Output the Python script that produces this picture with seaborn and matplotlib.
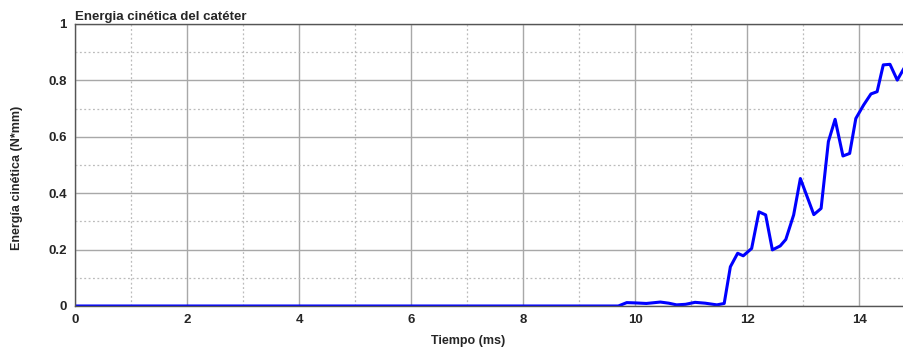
import matplotlib
matplotlib.use("Agg")
import matplotlib.pyplot as plt
from matplotlib.ticker import MultipleLocator
import pandas as pd
import seaborn as sns

# ============================================================
# DATA
# ============================================================

tiempo = [0.0, 9.70, 9.85, 10.0, 10.2, 10.45, 10.6, 10.74, 10.9, 11.07,
          11.25, 11.46, 11.59, 11.70, 11.83, 11.93, 12.08, 12.21, 12.33,
          12.45, 12.59, 12.69, 12.83, 12.95, 13.19, 13.32, 13.45, 13.57,
          13.71, 13.83, 13.94, 14.08, 14.21, 14.32, 14.43, 14.55, 14.68, 14.80]
energia = [0.0, 0.0, 0.012, 0.011, 0.009, 0.014, 0.010, 0.004, 0.006, 0.013,
           0.010, 0.004, 0.009, 0.139, 0.187, 0.178, 0.204, 0.334, 0.323,
           0.199, 0.213, 0.236, 0.323, 0.452, 0.324, 0.346, 0.583, 0.662,
           0.532, 0.541, 0.665, 0.713, 0.752, 0.760, 0.855, 0.857, 0.801, 0.843]

TITLE = "Energia cinética del catéter"
XLABEL = "Tiempo (ms)"
YLABEL = "Energía cinética (N*mm)"

# ============================================================
# PLOT
# ============================================================

sns.set_style("white")
plt.rcParams["font.family"] = ["Liberation Sans", "DejaVu Sans"]
plt.rcParams["font.weight"] = "bold"

df = pd.DataFrame({"t": tiempo, "e": energia})

fig = plt.figure(figsize=(9.04, 3.5), dpi=100)
ax = fig.add_axes([75 / 904, 44 / 350, 829 / 904, 282 / 350])

sns.lineplot(data=df, x="t", y="e", color="#0000ff", linewidth=2.2, ax=ax)

ax.set_xlim(0, 14.8)
ax.set_ylim(0, 1)
ax.xaxis.set_major_locator(MultipleLocator(2))
ax.xaxis.set_minor_locator(MultipleLocator(1))
ax.yaxis.set_major_locator(MultipleLocator(0.2))
ax.yaxis.set_minor_locator(MultipleLocator(0.1))
ax.set_yticks([0, 0.2, 0.4, 0.6, 0.8, 1])
ax.set_yticklabels(["0", "0.2", "0.4", "0.6", "0.8", "1"])

ax.grid(which="major", color="#a8a8a8", linestyle="-", linewidth=1.0)
ax.grid(which="minor", color="#bbbbbb", linestyle=(0, (1.5, 2)), linewidth=0.9)
ax.set_axisbelow(True)

for side in ["left", "bottom", "top"]:
    ax.spines[side].set_color("#555555")
    ax.spines[side].set_linewidth(1.0)
ax.spines["right"].set_visible(False)

ax.tick_params(axis="both", which="major", direction="inout", length=8,
               width=1.0, color="#555555", labelsize=9.5, pad=2)
ax.tick_params(axis="both", which="minor", length=0)
for lbl in ax.get_xticklabels() + ax.get_yticklabels():
    lbl.set_fontweight("bold")

ax.set_title(TITLE, loc="left", fontsize=9.5, fontweight="bold", pad=3)
ax.set_xlabel(XLABEL, fontsize=9, fontweight="bold", va="center")
ax.set_ylabel(YLABEL, fontsize=9, fontweight="bold", va="center")
ax.xaxis.set_label_coords(0.474, -0.124)
ax.yaxis.set_label_coords(-0.070, 0.454)

plt.savefig("out.png", dpi=100)
